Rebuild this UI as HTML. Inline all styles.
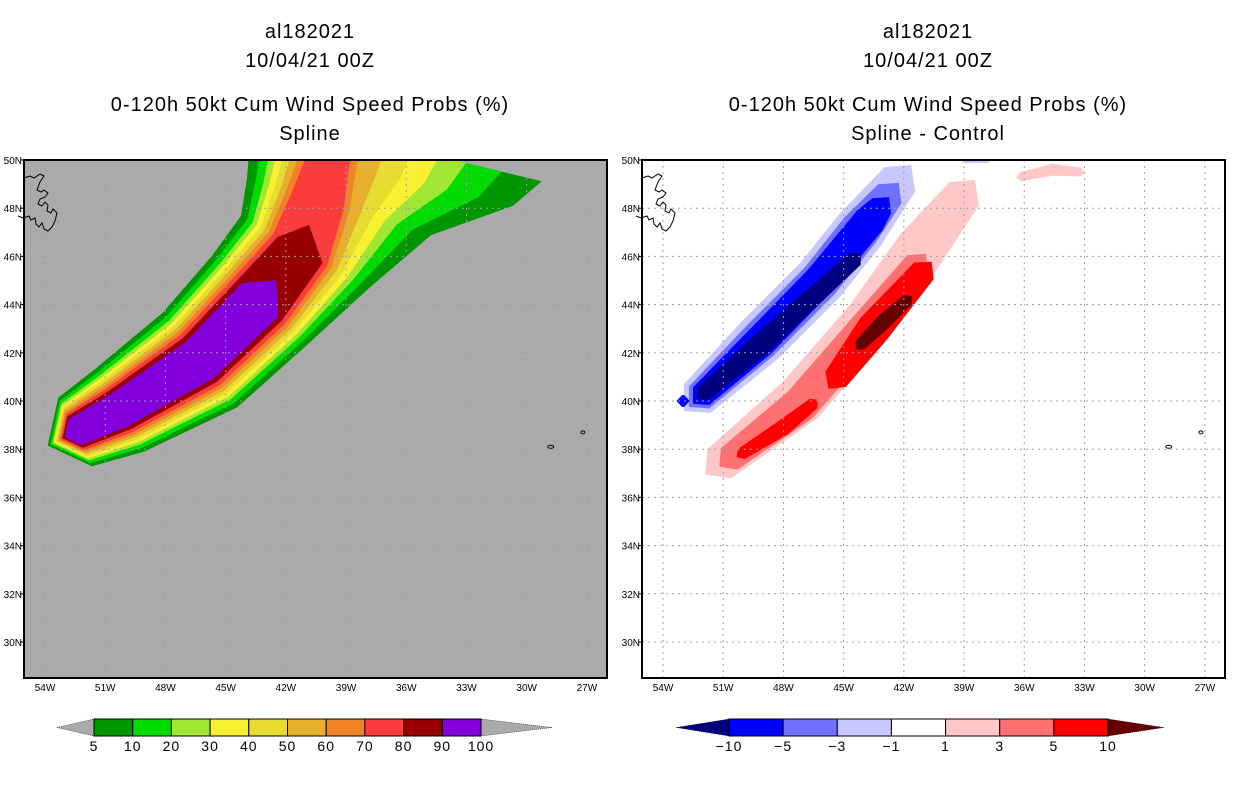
<!DOCTYPE html>
<html><head><meta charset="utf-8">
<style>
html,body{margin:0;padding:0;background:#fff;}
svg text{font-family:"Liberation Sans",sans-serif;}
</style></head>
<body>
<svg id="fig" width="1236" height="800" viewBox="0 0 1236 800" xmlns="http://www.w3.org/2000/svg">
<defs>
<clipPath id="clipL"><rect x="24" y="160" width="583" height="518"/></clipPath>
<clipPath id="clipR"><rect x="642" y="160" width="583" height="518"/></clipPath>
</defs>
<g font-size="20" text-anchor="middle" fill="#000" letter-spacing="1">
<text x="310" y="38">al182021</text>
<text x="310" y="67">10/04/21 00Z</text>
<text x="310" y="111">0-120h 50kt Cum Wind Speed Probs (%)</text>
<text x="310" y="140">Spline</text>
</g>
<g font-size="20" text-anchor="middle" fill="#000" letter-spacing="1">
<text x="928" y="38">al182021</text>
<text x="928" y="67">10/04/21 00Z</text>
<text x="928" y="111">0-120h 50kt Cum Wind Speed Probs (%)</text>
<text x="928" y="140">Spline - Control</text>
</g>
<rect x="24" y="160" width="583" height="518" fill="#aaaaaa"/>
<rect x="642" y="160" width="583" height="518" fill="#ffffff"/>
<g id="leftFill" clip-path="url(#clipL)"></g>
<g id="rightFill" clip-path="url(#clipR)"></g>
<g id="grids"></g>
<g id="coasts"></g>
<rect x="24" y="160" width="583" height="518" fill="none" stroke="#000" stroke-width="2"/>
<rect x="642" y="160" width="583" height="518" fill="none" stroke="#000" stroke-width="2"/>
<g id="axes" font-size="10" fill="#000"></g>
<g id="cbars"></g>
</svg>
<script>
// ---- data ----
const latTicks = [30,32,34,36,38,40,42,44,46,48,50];
const lonTicks = [-54,-51,-48,-45,-42,-39,-36,-33,-30,-27];
// track centerline (left panel)
const trackLon = [-52.5,-50.26,-46.28,-43.29,-41.29,-40.4,-39.9,-39.55];
const trackLat = [38.71,39.63,41.7,44.19,46.27,48.34,50.0,51.2];
const trackHalfWidthDeg = [1.9,2.4,3.0,3.25,3.4,3.7,4.0,4.1];
const trackFlareDeg = [0,0,0,0,0.5,2.2,5.5,6.5];
const trackCoreSqueeze = [1,1,1,1,1.15,1.35,1.55,1.6];
const probLevels = [5,10,20,30,40,50,60,70,80,90];
const probFrac = [1,0.91,0.83,0.77,0.71,0.65,0.59,0.53,0.46,0.38];
const probEnd = [7,7,7,7,7,7,7,7,4.5,3.4];
const probColors = ['#009600','#00dc00','#a0e632','#faf032','#e6dc32','#e6af2d','#f08228','#fa3c3c','#960000','#8200dc'];
const cbLabelsL = ['5','10','20','30','40','50','60','70','80','90','100'];
// difference features (right panel)
const diffLobes = [
 {name:'blue-light', color:'#c8c8ff', w:2.6, lon:[-52.3,-49.17,-46.18,-44.18,-42.2], lat:[40.1,42.53,45.02,47.1,49.2]},
 {name:'blue-medium', color:'#7070ff', w:2.0, lon:[-52.2,-49.17,-46.18,-44.18,-42.7], lat:[40.15,42.5,45.0,47.1,48.6]},
 {name:'blue-strong', color:'#0000ff', w:1.6, lon:[-52.1,-49.17,-46.18,-43.69,-43.1], lat:[40.2,42.45,45.0,47.5,48.1]},
 {name:'blue-darkest', color:'#000080', w:1.1, lon:[-52.0,-49.17,-44.43], lat:[40.3,42.32,45.9]},
 {name:'pink-light', color:'#ffc8c8', w:2.5, lon:[-51.2,-47.17,-43.69,-41.2,-39.0], lat:[37.4,40.04,43.36,46.27,48.6]},
 {name:'salmon', color:'#ff7070', w:1.8, lon:[-50.7,-47.17,-43.69,-41.3], lat:[37.6,39.83,43.15,45.7]},
 {name:'red-a', color:'#ff0000', w:0.8, lon:[-50.1,-48.0,-46.5], lat:[37.8,38.9,39.9]},
 {name:'red-b', color:'#ff0000', w:1.7, lon:[-45.4,-43.5,-41.0], lat:[40.9,43.0,45.4]},
 {name:'red-darkest', color:'#640000', w:0.8, lon:[-44.2,-43.0,-41.8], lat:[42.3,43.3,44.2]},
 {name:'pink-top', color:'#ffc8c8', w:0.6, lon:[-36.2,-34.6,-33.2], lat:[49.3,49.6,49.5]},
 {name:'blue-top', color:'#c8c8ff', w:0.4, lon:[-39.0,-37.8], lat:[50.0,50.0]},
 {name:'blue-dot', color:'#0000ff', w:0.8, lon:[-53.05,-52.95], lat:[40.0,40.0]}
];
const diffColors = ['#0000ff','#7070ff','#c8c8ff','#ffffff','#ffc8c8','#ff7070','#ff0000'];
const cbLabelsR = ['-10','-5','-3','-1','1','3','5','10'];

// ---- axes ----
const NS='http://www.w3.org/2000/svg';
const PXD=20.07, PYD=24.1;
function xL(lon){return 45+(lon+54)*PXD;}
function xR(lon){return 663+(lon+54)*PXD;}
function y(lat){return 160+(50-lat)*PYD;}
function mk(tag,attrs,parent){const e=document.createElementNS(NS,tag);for(const k in attrs)e.setAttribute(k,attrs[k]);parent.appendChild(e);return e;}
function ptsStr(pts){return pts.map(p=>p[0].toFixed(1)+','+p[1].toFixed(1)).join(' ');}

// left swath
const lf=document.getElementById('leftFill');
function swath(fi,frac,end){
  const n=trackLon.length;
  const P=[];
  for(let i=0;i<n;i++)P.push([xL(trackLon[i]),y(trackLat[i])]);
  const Lp=[],Rp=[];
  const last=Math.floor(end);
  for(let i=0;i<=last && i<n;i++){
    const a=P[Math.max(0,i-1)],b=P[Math.min(n-1,i+1)];
    let dx=b[0]-a[0],dy=b[1]-a[1];const l=Math.hypot(dx,dy);dx/=l;dy/=l;
    const g=Math.max(0.05,1-(1-frac)*trackCoreSqueeze[i]);
    const hw=trackHalfWidthDeg[i]*PXD*g;
    const fl=trackFlareDeg[i]*PXD*Math.max(0,frac-0.6)/0.4;
    Lp.push([P[i][0]+dy*hw,P[i][1]-dx*hw]);
    Rp.push([P[i][0]-dy*(hw+fl),P[i][1]+dx*(hw+fl)]);
  }
  let pts=[];
  const d0=[P[1][0]-P[0][0],P[1][1]-P[0][1]];const l0=Math.hypot(d0[0],d0[1]);
  const cap=trackHalfWidthDeg[0]*PXD*frac*0.8;
  pts.push([P[0][0]-d0[0]/l0*cap,P[0][1]-d0[1]/l0*cap]);
  pts=pts.concat(Lp);
  if(end<n-1){
    const f=end-last,a=P[last],b=P[last+1];
    pts.push([a[0]+(b[0]-a[0])*f,a[1]+(b[1]-a[1])*f]);
  }
  pts=pts.concat(Rp.reverse());
  const e=mk('polygon',{points:ptsStr(pts),fill:probColors[fi]},lf);
  
  
}
probLevels.forEach((v,i)=>swath(i,probFrac[i],probEnd[i]));

// right diff lobes (tapered polygons)
const rf=document.getElementById('rightFill');
diffLobes.forEach(d=>{
  const P=d.lon.map((lo,i)=>[xR(lo),y(d.lat[i])]);
  const n=P.length,L=[],R=[];
  let dFirst,dLast;
  for(let i=0;i<n;i++){
    const a=P[Math.max(0,i-1)],b=P[Math.min(n-1,i+1)];
    let dx=b[0]-a[0],dy=b[1]-a[1];const l=Math.hypot(dx,dy)||1;dx/=l;dy/=l;
    if(i==0)dFirst=[dx,dy];if(i==n-1)dLast=[dx,dy];
    const hw=d.w*PXD/2*((i==0||i==n-1)?0.75:1);
    L.push([P[i][0]+dy*hw,P[i][1]-dx*hw]);R.push([P[i][0]-dy*hw,P[i][1]+dx*hw]);
  }
  const ext=d.w*PXD/2*0.7;
  const pts=[[P[0][0]-dFirst[0]*ext,P[0][1]-dFirst[1]*ext]].concat(L,[[P[n-1][0]+dLast[0]*ext,P[n-1][1]+dLast[1]*ext]],R.reverse());
  const e=mk('polygon',{points:ptsStr(pts),fill:d.color},rf);
  
  
});

// grids
const gg=document.getElementById('grids');
[[xL,24,607],[xR,642,1225]].forEach(([fx,x0,x1])=>{
  lonTicks.forEach(lo=>{const e=mk('line',{x1:fx(lo),x2:fx(lo),y1:160,y2:678,stroke:'#a0a0a0','stroke-dasharray':'2,4','stroke-width':1},gg);
    });
  latTicks.forEach(la=>{const e=mk('line',{x1:x0,x2:x1,y1:y(la),y2:y(la),stroke:'#a0a0a0','stroke-dasharray':'2,4','stroke-width':1},gg);
    });
});

// coastlines
const cg=document.getElementById('coasts');
const nfld='m0,14 l6,-2 l4,2 l6,-4 l4,2 l-4,6 l-3,8 l4,2 l3,-2 l4,3 l-3,4 l-5,2 l-2,5 l4,2 l3,-4 l3,3 l-1,6 l4,2 l2,-4 l4,4 l-2,8 l-3,6 l-4,4 l-4,-2 l-2,-6 l-3,4 l-3,-3 l-1,-6 l-4,2 l-2,-4 l-6,2 l-5,-2';
[[24,164],[642,164]].forEach(([ox,oy])=>{
  const e=mk('path',{d:'M'+ox+','+oy+' '+nfld,fill:'none',stroke:'#000','stroke-width':1},cg);
  
});
[xL,xR].forEach(fx=>{
  const a=mk('ellipse',{cx:fx(-28.8),cy:y(38.1),rx:3,ry:1.5,fill:'none',stroke:'#000'},cg);
  
  const b=mk('ellipse',{cx:fx(-27.2),cy:y(38.7),rx:2,ry:1.5,fill:'none',stroke:'#000'},cg);
  
});

// axis labels
const ax=document.getElementById('axes');
[[xL,24],[xR,642]].forEach(([fx,x0])=>{
  latTicks.forEach(la=>{
    const t=mk('text',{x:x0-2,y:y(la)+4,'text-anchor':'end'},ax);t.textContent=la+'N';
    
    const k=mk('line',{x1:x0-4,x2:x0,y1:y(la),y2:y(la),stroke:'#000'},ax);
    
  });
  lonTicks.forEach(lo=>{
    const t=mk('text',{x:fx(lo),y:691,'text-anchor':'middle'},ax);t.textContent=(-lo)+'W';
    
  });
});

// colorbars
const cb=document.getElementById('cbars');
function cbar(x0,x1,bx0,bx1,cols,labels,leftCol,rightCol,nm){
  const yt=719,yb=736,ym=727.5;
  const lt=mk('polygon',{points:`${x0},${ym} ${bx0},${yt} ${bx0},${yb}`,fill:leftCol,stroke:'#000','stroke-width':0.5,'stroke-dasharray':'1,1'},cb);
  
  const rt=mk('polygon',{points:`${x1},${ym} ${bx1},${yt} ${bx1},${yb}`,fill:rightCol,stroke:'#000','stroke-width':0.5,'stroke-dasharray':'1,1'},cb);
  
  const w=(bx1-bx0)/cols.length;
  cols.forEach((c,i)=>{const r=mk('rect',{x:bx0+i*w,y:yt,width:w,height:yb-yt,fill:c,stroke:'#000','stroke-width':1},cb);
    });
  labels.forEach((l,i)=>{const t=mk('text',{x:bx0+i*w,y:751,'text-anchor':'middle','font-size':14,'letter-spacing':'1'},cb);t.textContent=l.replace('-','\u2212');
    });
}
cbar(57,552,94,481,probColors,cbLabelsL,'#aaaaaa','#aaaaaa','left-colorbar');
cbar(676,1164,729,1108,diffColors,cbLabelsR,'#000080','#640000','right-colorbar');
</script>
</body></html>
